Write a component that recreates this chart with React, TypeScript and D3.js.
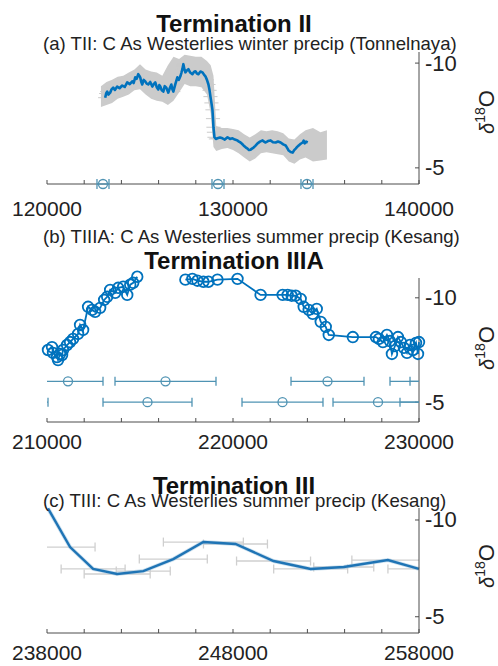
import React from "react";
import * as d3 from "d3";

const W = 498;
const H = 666;
const FONT = "'Liberation Sans', Arial, Helvetica, sans-serif";

// ---------- Panel (a): Termination II, Tonnelnaya ----------
const ageA = [
  123127, 123180, 123235, 123300, 123396, 123470, 123558, 123650, 123774, 123900,
  124043, 124180, 124313, 124450, 124582, 124660, 124744, 124820, 124906, 124960,
  125013, 125070, 125121, 125200, 125283, 125360, 125445, 125550, 125661, 125740,
  125822, 125900, 125984, 126040, 126092, 126170, 126254, 126330, 126415, 126470,
  126523, 126600, 126685, 126740, 126793, 126900, 127008, 127090, 127170, 127230,
  127278, 127310, 127332, 127390, 127440, 127520, 127601, 127700, 127817, 127900,
  127979, 128060, 128140, 128250, 128356, 128440, 128518, 128600, 128680, 128740,
  128788, 128840, 128895, 128925, 128949, 128975, 129003, 129080, 129165, 129300,
  129434, 129560, 129704, 129840, 129973, 130100, 130243, 130320, 130405, 130480,
  130566, 130680, 130782, 130860, 130944, 131020, 131105, 131200, 131321, 131450,
  131591, 131670, 131752, 131880, 132022, 132150, 132291, 132420, 132561, 132700,
  132830, 132910, 132992, 133100, 133208, 133290, 133370, 133450, 133531, 133640,
  133747, 133800, 133855, 133930, 134017,
];
const d18OA = [
  -8.35, -8.55, -8.64, -8.5, -8.59, -8.75, -8.83, -8.72, -8.88, -8.8,
  -8.93, -8.86, -9.08, -9.0, -9.13, -9.05, -9.32, -9.25, -9.47, -9.4,
  -9.32, -9.1, -8.98, -9.2, -9.13, -9.02, -8.98, -9.1, -8.88, -9.0,
  -9.08, -8.85, -8.74, -8.95, -8.88, -8.7, -8.64, -8.9, -8.83, -8.7,
  -8.59, -8.8, -8.98, -8.75, -8.64, -9.0, -9.32, -9.2, -9.37, -9.55,
  -9.71, -9.85, -9.95, -9.7, -9.56, -9.65, -9.71, -9.55, -9.47, -9.58,
  -9.61, -9.5, -9.47, -9.6, -9.56, -9.45, -9.37, -9.2, -8.98, -8.7,
  -8.4, -8.1, -7.77, -7.35, -6.94, -6.7, -6.46, -6.38, -6.41, -6.45,
  -6.41, -6.35, -6.46, -6.38, -6.41, -6.35, -6.31, -6.25, -6.21, -6.15,
  -6.07, -5.98, -5.92, -5.85, -5.87, -5.92, -5.97, -6.05, -6.17, -6.25,
  -6.31, -6.25, -6.21, -6.28, -6.31, -6.22, -6.21, -6.26, -6.21, -6.12,
  -6.07, -5.95, -5.83, -5.76, -5.73, -5.85, -5.92, -6.0, -6.07, -6.15,
  -6.21, -6.3, -6.17, -6.25, -6.21,
];
const ageErrA = 380;
const bandAgeA = [
  122900, 123200, 123500, 123800, 124100, 124400, 124700, 125000, 125300, 125600,
  125900, 126200, 126500, 126800, 127100, 127400, 127700, 128000, 128300, 128600,
  128800, 128950, 129100, 129400, 129700, 130000, 130300, 130600, 130900, 131200,
  131500, 131800, 132100, 132400, 132700, 133000, 133300, 133600, 133900, 134300,
  134700, 135050,
];
const bandUpA = [
  -8.9, -9.1, -9.2, -9.35, -9.4, -9.55, -9.7, -9.95, -9.7, -9.6,
  -9.55, -9.4, -9.9, -10.3, -10.2, -10.4, -10.35, -10.3, -10.3, -10.1,
  -9.9, -9.4, -7.0, -6.9, -6.9, -6.85, -6.8, -6.6, -6.45, -6.6,
  -6.8, -6.75, -6.8, -6.75, -6.65, -6.4, -6.35, -6.6, -6.8, -6.9,
  -6.7, -6.8,
];
const bandLoA = [
  -7.9, -8.0, -8.1, -8.3, -8.4, -8.5, -8.7, -8.75, -8.5, -8.3,
  -8.2, -8.15, -8.0, -8.2, -8.6, -9.0, -8.9, -8.9, -8.85, -8.5,
  -7.6, -6.0, -5.8, -5.9, -5.95, -5.85, -5.7, -5.5, -5.3, -5.45,
  -5.7, -5.75, -5.7, -5.65, -5.6, -5.3, -5.2, -5.4, -5.5, -5.3,
  -5.35, -5.4,
];
const ctrlAgeA = [123010, 129193, 133978];
const ctrlErrA = [323, 323, 323];
const ctrlValA = [-4.23, -4.23, -4.23];

// ---------- Panel (b): Termination IIIA, Kesang ----------
const ageB = [
  210054, 210270, 210323, 210539, 210593, 210701, 210809, 210863, 211078, 211240,
  211402, 211671, 211779, 211941, 212210, 212426, 212588, 212857, 213073, 213235,
  213396, 213666, 213828, 214097, 214313, 214475, 214636, 214852,
  216000,
  217440, 217817, 218087, 218410, 218680, 219165, 220243, 221483, 222669, 222938,
  223154, 223370, 223639, 223801, 224071, 224286, 224502, 224717, 224987, 225149,
  226443, 227683, 227844, 228060, 228276, 228437, 228545, 228707, 228869, 229030,
  229192, 229354, 229515, 229677, 229839, 229946, 230000,
];
const d18OB: (number | null)[] = [
  -7.5, -7.64, -7.36, -7.16, -7.02, -7.31, -7.26, -7.5, -7.74, -7.88,
  -8.03, -8.27, -8.7, -8.46, -9.57, -9.42, -9.33, -9.52, -9.9, -10.05,
  -10.38, -10.24, -10.48, -10.53, -10.14, -10.63, -10.72, -11.01,
  null,
  -10.87, -10.91, -10.82, -10.77, -10.77, -10.87, -10.91, -10.14, -10.14, -10.14,
  -10.1, -10.1, -9.95, -9.57, -9.42, -9.23, -9.47, -8.85, -8.61, -8.22,
  -8.12, -8.12, -8.03, -7.88, -8.22, -7.93, -7.31, -7.69, -8.12, -7.88,
  -7.6, -7.36, -7.74, -7.5, -7.84, -7.31, -7.88,
];
const ctrlAgeB = [211129, 216371, 225081, 231129, 231667, 208011, 215403, 222661, 227796, 232204];
const ctrlErrB = [1882, 2715, 1962, 2688, 2150, 2043, 2392, 2177, 2419, 3226];
const ctrlValB = [-6.0, -6.0, -6.0, -6.0, -6.0, -5.0, -5.0, -5.0, -5.0, -5.0];

// ---------- Panel (c): Termination III, Kesang ----------
const ageC = [238054, 239240, 240480, 241773, 243175, 244790, 246407, 248132, 250180, 252176, 253954, 256326, 257997];
const d18OC = [-10.6, -8.6, -7.47, -7.21, -7.36, -7.98, -8.86, -8.76, -7.88, -7.47, -7.57, -7.93, -7.47];
const errC = [0, 1344, 1720, 1774, 1452, 1828, 2150, 1720, 1989, 1989, 1613, 1935, 1667];

// ---------- Axis labels ----------
const yTicks = [-10, -5];
const xLabelsA = [120000, 130000, 140000];
const xLabelsB = [210000, 220000, 230000];
const xLabelsC = [238000, 248000, 258000];

const titles = ["Termination II", "Termination IIIA", "Termination III"];
const subtitles = [
  "(a) TII: C As Westerlies winter precip (Tonnelnaya)",
  "(b) TIIIA: C As Westerlies summer precip (Kesang)",
  "(c) TIII: C As Westerlies summer precip (Kesang)",
];

const AX = "#4d4d4d";
const BLUE = "#0072BD";
const CTRL = "#4f93b3";
const GRAY = "#cbcbcb";

type Geo = {
  id: string;
  xDomain: [number, number];
  yDomain: [number, number];
  yRange: [number, number];
  titleY: number;
  subY: number;
  xlabY: number;
  ylabY: number;
  xLabels: number[];
  title: string;
  sub: string;
};

const X0 = 47;
const X1 = 419;

function Axes({ g, x, y }: { g: Geo; x: d3.ScaleLinear<number, number>; y: d3.ScaleLinear<number, number> }) {
  const ticks = d3.range(g.xDomain[0], g.xDomain[1] + 1, 2000);
  const yb = g.yRange[1];
  return (
    <g>
      <line x1={X0} x2={X1} y1={yb} y2={yb} stroke={AX} strokeWidth={1} />
      <line x1={X1} x2={X1} y1={g.yRange[0]} y2={yb} stroke={AX} strokeWidth={1} />
      {ticks.map((t) => (
        <line key={t} x1={x(t)} x2={x(t)} y1={yb} y2={yb - 4} stroke={AX} strokeWidth={1} />
      ))}
      {yTicks.map((t) => (
        <g key={t}>
          <line x1={X1} x2={X1 - 4} y1={y(t)} y2={y(t)} stroke={AX} strokeWidth={1} />
          <text x={425} y={y(t) + 7.5} fontFamily={FONT} fontSize={22} fill="#222">
            {t < 0 ? "-" + Math.abs(t) : String(t)}
          </text>
        </g>
      ))}
      {g.xLabels.map((t) => (
        <text key={t} x={x(t)} y={g.xlabY} textAnchor="middle" fontFamily={FONT} fontSize={21} fill="#222">
          {String(t)}
        </text>
      ))}
      <text
        transform={`translate(494,${g.ylabY}) rotate(-90)`}
        textAnchor="middle"
        fontFamily={FONT}
        fill="#222"
      >
        <tspan fontSize={20} fontStyle="italic">δ</tspan>
        <tspan fontSize={14} dy={-9}>18</tspan>
        <tspan fontSize={22} dy={9}>O</tspan>
      </text>
    </g>
  );
}

function Texts({ g }: { g: Geo }) {
  return (
    <g>
      <text x={234} y={g.titleY} textAnchor="middle" fontFamily={FONT} fontSize={24} fontWeight="bold" fill="#111">
        {g.title}
      </text>
      <text x={43} y={g.subY} fontFamily={FONT} fontSize={18.6} fill="#222">
        {g.sub}
      </text>
    </g>
  );
}

function CtrlBars({ ages, errs, vals, x, y, id, color, cap, showCircle }: any) {
  return (
    <g clipPath={`url(#${id})`}>
      {ages.map((a: number, i: number) => {
        const cx = x(a);
        const cy = y(vals[i]);
        const l = x(a - errs[i]);
        const r = x(a + errs[i]);
        if (errs[i] <= 0) return null;
        return (
          <g key={i} stroke={color} fill="none" strokeWidth={1.3}>
            <line x1={l} x2={r} y1={cy} y2={cy} />
            <line x1={l} x2={l} y1={cy - cap} y2={cy + cap} />
            <line x1={r} x2={r} y1={cy - cap} y2={cy + cap} />
            {showCircle && <circle cx={cx} cy={cy} r={4.5} />}
          </g>
        );
      })}
    </g>
  );
}

export default function App() {
  const geos: Geo[] = [
    {
      id: "clipA", xDomain: [120000, 140000], yDomain: [-10.53, -4.23], yRange: [52, 184],
      titleY: 32, subY: 50, xlabY: 216, ylabY: 112, xLabels: xLabelsA, title: titles[0], sub: subtitles[0],
    },
    {
      id: "clipB", xDomain: [210000, 230000], yDomain: [-10.95, -4.05], yRange: [278, 422],
      titleY: 269, subY: 243, xlabY: 449, ylabY: 348, xLabels: xLabelsB, title: titles[1], sub: subtitles[1],
    },
    {
      id: "clipC", xDomain: [238000, 258000], yDomain: [-10.62, -4.16], yRange: [508, 633],
      titleY: 494, subY: 507, xlabY: 660, ylabY: 566, xLabels: xLabelsC, title: titles[2], sub: subtitles[2],
    },
  ];
  const scales = geos.map((g) => ({
    x: d3.scaleLinear().domain(g.xDomain).range([X0, X1]),
    y: d3.scaleLinear().domain(g.yDomain).range(g.yRange),
  }));

  // Panel A
  const { x: xA, y: yA } = scales[0];
  const bandA = d3
    .area<number>()
    .x((_, i) => xA(bandAgeA[i]))
    .y0((_, i) => yA(bandLoA[i]))
    .y1((_, i) => yA(bandUpA[i]))(bandAgeA);
  const lineA = d3
    .line<number>()
    .x((_, i) => xA(ageA[i]))
    .y((_, i) => yA(d18OA[i]))(ageA);

  // Panel B
  const { x: xB, y: yB } = scales[1];
  const lineB = d3
    .line<number>()
    .defined((_, i) => d18OB[i] !== null)
    .x((_, i) => xB(ageB[i]))
    .y((_, i) => yB(d18OB[i] as number))(ageB);

  // Panel C
  const { x: xC, y: yC } = scales[2];
  const lineC = d3
    .line<number>()
    .x((_, i) => xC(ageC[i]))
    .y((_, i) => yC(d18OC[i]))(ageC);

  return (
    <svg
      width={W}
      height={H}
      style={{ position: "absolute", left: 0, top: 0, background: "#fff" }}
      xmlns="http://www.w3.org/2000/svg"
    >
      <defs>
        {geos.map((g) => (
          <clipPath id={g.id} key={g.id}>
            <rect x={X0} y={g.yRange[0] - 40} width={X1 - X0} height={g.yRange[1] - g.yRange[0] + 60} />
          </clipPath>
        ))}
      </defs>
      <rect x={0} y={0} width={W} height={H} fill="#fff" />

      {/* Panel A */}
      <g>
        <path d={bandA ?? ""} fill={GRAY} stroke="none" />
        <g stroke={GRAY} strokeWidth={1}>
          {ageA.map((a, i) => (
            <line key={i} x1={xA(a - ageErrA)} x2={xA(a + ageErrA)} y1={yA(d18OA[i])} y2={yA(d18OA[i])} />
          ))}
        </g>
        <path d={lineA ?? ""} fill="none" stroke={BLUE} strokeWidth={2.6} strokeLinejoin="round" />
        <Axes g={geos[0]} x={xA} y={yA} />
        <CtrlBars ages={ctrlAgeA} errs={ctrlErrA} vals={ctrlValA} x={xA} y={yA} id="clipA" color={CTRL} cap={5} showCircle />
        <Texts g={geos[0]} />
      </g>

      {/* Panel B */}
      <g>
        <Texts g={geos[1]} />
        <Axes g={geos[1]} x={xB} y={yB} />
        <CtrlBars ages={ctrlAgeB} errs={ctrlErrB} vals={ctrlValB} x={xB} y={yB} id="clipB" color={CTRL} cap={4.5} showCircle />
        <path d={lineB ?? ""} fill="none" stroke={BLUE} strokeWidth={1.8} />
        <g fill="none" stroke={BLUE} strokeWidth={1.8}>
          {ageB.map((a, i) =>
            d18OB[i] === null ? null : <circle key={i} cx={xB(a)} cy={yB(d18OB[i] as number)} r={5.3} />
          )}
        </g>
      </g>

      {/* Panel C */}
      <g>
        <CtrlBars ages={ageC} errs={errC} vals={d18OC} x={xC} y={yC} id="clipC" color="#cfcfcf" cap={4.5} showCircle={false} />
        <path d={lineC ?? ""} fill="none" stroke="#9cc3e0" strokeWidth={4} opacity={0.5} />
        <path d={lineC ?? ""} fill="none" stroke="#1f74b5" strokeWidth={2.4} />
        <Axes g={geos[2]} x={xC} y={yC} />
        <Texts g={geos[2]} />
      </g>
    </svg>
  );
}
